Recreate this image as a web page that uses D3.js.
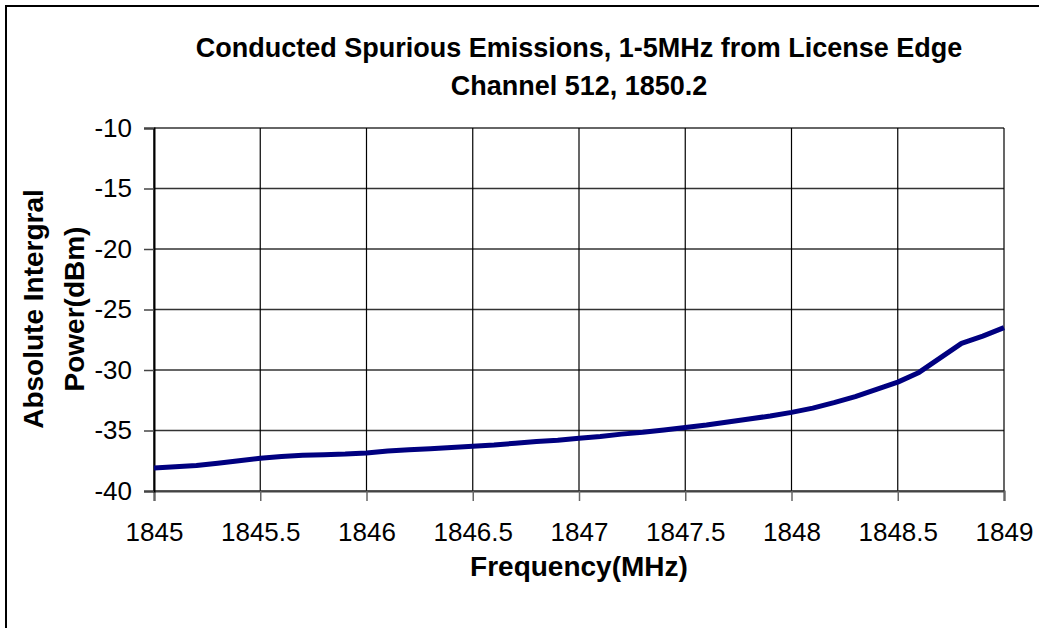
<!DOCTYPE html>
<html>
<head>
<meta charset="utf-8">
<script src="https://cdn.jsdelivr.net/npm/d3@7"></script>
<style>
  body { margin: 0; background: #fff; }
  svg { display: block; font-family: "Liberation Sans", Arial, sans-serif; }
</style>
</head>
<body>
<svg id="chart" width="1039" height="628"></svg>
<script>
// spurious emission sweep
var freqs = [1845.0, 1845.1, 1845.2, 1845.3, 1845.4, 1845.5, 1845.6, 1845.7, 1845.8, 1845.9,
             1846.0, 1846.1, 1846.2, 1846.3, 1846.4, 1846.5, 1846.6, 1846.7, 1846.8, 1846.9,
             1847.0, 1847.1, 1847.2, 1847.3, 1847.4, 1847.5, 1847.6, 1847.7, 1847.8, 1847.9,
             1848.0, 1848.1, 1848.2, 1848.3, 1848.4, 1848.5, 1848.6, 1848.7, 1848.8, 1848.9, 1849.0];
var power = [-38.1, -38.0, -37.9, -37.7, -37.5, -37.3, -37.15, -37.05, -37.0, -36.95,
             -36.85, -36.7, -36.6, -36.5, -36.4, -36.3, -36.2, -36.05, -35.9, -35.8,
             -35.65, -35.5, -35.3, -35.15, -34.95, -34.75, -34.55, -34.3, -34.05, -33.8,
             -33.5, -33.15, -32.7, -32.2, -31.6, -31.0, -30.2, -29.0, -27.8, -27.2, -26.5];

var xTicks = [1845, 1845.5, 1846, 1846.5, 1847, 1847.5, 1848, 1848.5, 1849];
var yTicks = [-10, -15, -20, -25, -30, -35, -40];

var titleLines = ["Conducted Spurious Emissions, 1-5MHz from License Edge", "Channel 512, 1850.2"];
var yTitleLines = ["Absolute Intergral", "Power(dBm)"];
var xTitle = "Frequency(MHz)";

var svg = d3.select("#chart");
var plotLeft = 154, plotRight = 1004, plotTop = 128, plotBottom = 491;

var x = d3.scaleLinear().domain([1845, 1849]).range([plotLeft, plotRight]);
var y = d3.scaleLinear().domain([-40, -10]).range([plotBottom, plotTop]);

// outer frame (runs off the bottom and right of the picture)
svg.append("rect")
    .attr("x", 6).attr("y", 6)
    .attr("width", 1045).attr("height", 640)
    .attr("fill", "none")
    .attr("stroke", "#000")
    .attr("stroke-width", 2);

// grid
svg.append("g")
    .selectAll("line")
    .data(yTicks)
    .enter().append("line")
    .attr("x1", plotLeft).attr("x2", plotRight)
    .attr("y1", function(d) { return y(d); })
    .attr("y2", function(d) { return y(d); })
    .attr("stroke", "#333")
    .attr("stroke-width", 1.5);

svg.append("g")
    .selectAll("line")
    .data(xTicks)
    .enter().append("line")
    .attr("y1", plotTop).attr("y2", plotBottom)
    .attr("x1", function(d) { return x(d); })
    .attr("x2", function(d) { return x(d); })
    .attr("stroke", "#000")
    .attr("stroke-width", 1.2);

// axes
var xAxis = svg.append("g")
    .attr("transform", "translate(0," + plotBottom + ")")
    .call(d3.axisBottom(x).tickValues(xTicks).tickSize(10).tickPadding(22).tickFormat(String));
xAxis.select(".domain").attr("stroke", "#444").attr("stroke-width", 2);
xAxis.selectAll(".tick line").attr("stroke", "#666").attr("stroke-width", 1.5);
xAxis.selectAll("text").attr("font-size", 26).attr("fill", "#000").attr("font-family", "Liberation Sans, Arial, sans-serif");

var yAxis = svg.append("g")
    .attr("transform", "translate(" + plotLeft + ",0)")
    .call(d3.axisLeft(y).tickValues(yTicks).tickSize(10).tickPadding(12).tickFormat(String));
yAxis.select(".domain").attr("stroke", "#000").attr("stroke-width", 2);
yAxis.selectAll(".tick line").attr("stroke", "#444").attr("stroke-width", 1.5);
yAxis.selectAll("text").attr("font-size", 26).attr("fill", "#000").attr("font-family", "Liberation Sans, Arial, sans-serif");

// series
var line = d3.line()
    .x(function(d, i) { return x(freqs[i]); })
    .y(function(d) { return y(d); });

svg.append("path")
    .datum(power)
    .attr("d", line)
    .attr("fill", "none")
    .attr("stroke", "#000080")
    .attr("stroke-width", 5)
    .attr("stroke-linejoin", "round");

// titles
svg.append("g")
    .selectAll("text")
    .data(titleLines)
    .enter().append("text")
    .attr("x", (plotLeft + plotRight) / 2)
    .attr("y", function(d, i) { return 48 + i * 38; })
    .attr("dy", "0.35em")
    .attr("text-anchor", "middle")
    .attr("font-size", 27)
    .attr("font-weight", "bold")
    .text(function(d) { return d; });

svg.append("text")
    .attr("x", (plotLeft + plotRight) / 2)
    .attr("y", 566)
    .attr("dy", "0.35em")
    .attr("text-anchor", "middle")
    .attr("font-size", 28)
    .attr("font-weight", "bold")
    .text(xTitle);

svg.append("g")
    .selectAll("text")
    .data(yTitleLines)
    .enter().append("text")
    .attr("transform", function(d, i) { return "translate(" + (33 + i * 41) + ",309) rotate(-90)"; })
    .attr("dy", "0.35em")
    .attr("text-anchor", "middle")
    .attr("font-size", 28)
    .attr("font-weight", "bold")
    .text(function(d) { return d; });
</script>
</body>
</html>
